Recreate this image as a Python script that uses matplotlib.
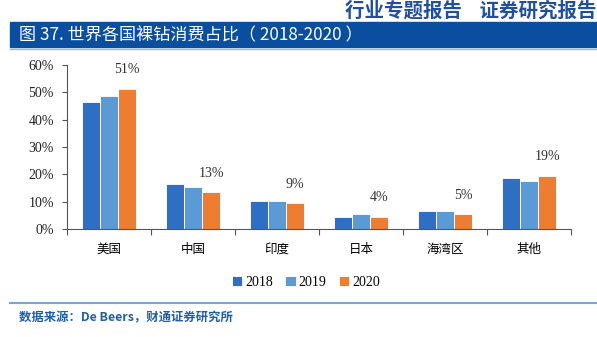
import matplotlib.pyplot as plt
import matplotlib.patches as mpatches
import numpy as np

plt.rcParams['font.family'] = ['Noto Sans CJK SC', 'DejaVu Sans']

# 数据
regiones = ['美国', '中国', '印度', '日本', '海湾区', '其他']
anios = ['2018', '2019', '2020']
v2018 = [46.5, 16.5, 10.4, 4.4, 6.5, 18.5]
v2019 = [48.5, 15.5, 10.4, 5.4, 6.5, 17.6]
v2020 = [51.4, 13.4, 9.4, 4.4, 5.4, 19.5]
etiquetas = ['51%', '13%', '9%', '4%', '5%', '19%']
colores = ['#2f6fc3', '#5b9bd5', '#ed7d31']

fig = plt.figure(figsize=(5.97, 3.37), dpi=100)

# encabezado
fig.text(0.999, 0.998, '行业专题报告    证券研究报告', ha='right', va='top',
         fontsize=14, fontweight='bold', color='#1f4f9e')
fig.patches.append(mpatches.Rectangle((10/597, 1-47/337), 1, 25/337,
                                      transform=fig.transFigure, color='#0a4f9f'))
fig.add_artist(plt.Line2D([10/597, 1], [1-49/337, 1-49/337], color='#9bb8dc', lw=1))
fig.text(19/597, 1-35/337, '图 37. 世界各国裸钻消费占比（ 2018-2020 ）', ha='left', va='center',
         fontsize=12.3, color='white')

# pie de figura
fig.add_artist(plt.Line2D([10/597, 1], [1-303/337, 1-303/337], color='#7fa3d3', lw=1.5))
fig.text(19/597, 1-318/337, '数据来源：De Beers，财通证券研究所', ha='left', va='center',
         fontsize=8.9, fontweight='bold', color='#1f5fa8')

ax = fig.add_axes([67/597, 1-229/337, 504/597, 164/337])
x = np.arange(len(regiones))
w = 0.215
series = [v2018, v2019, v2020]
for i, (vals, c) in enumerate(zip(series, colores)):
    ax.bar(x + (i-1)*w, vals, width=w, color=c, edgecolor='white', linewidth=0.6,
           label=anios[i], zorder=2)

for xi, val, lab in zip(x, v2020, etiquetas):
    ax.annotate(lab, (xi + w, val), xytext=(0, 9), textcoords='offset points',
                ha='center', va='bottom', fontsize=10, family='Liberation Serif', color='#333333')

ax.set_xlim(-0.5, len(regiones)-0.5)
ax.set_ylim(0, 60)
ax.set_yticks(np.arange(0, 61, 10))
ax.set_yticklabels([f'{v}%' for v in range(0, 61, 10)], family='Liberation Serif', fontsize=10)
ax.set_xticks(np.arange(-0.5, len(regiones), 1), minor=False)
ax.set_xticklabels([])
ax.set_xticks(x, minor=True)
ax.set_xticklabels(regiones, minor=True, fontsize=9)
ax.tick_params(axis='x', which='minor', length=0, pad=10)
ax.tick_params(axis='x', which='major', length=4, direction='out', color='#555555')
ax.tick_params(axis='y', length=3.5, direction='out', color='#555555', pad=6, labelcolor='#222222')
for s in ['top', 'right']:
    ax.spines[s].set_visible(False)
ax.spines['left'].set_color('#555555')
ax.spines['bottom'].set_color('#555555')
ax.spines['bottom'].set_zorder(3)

leg = fig.legend(loc='center', bbox_to_anchor=(306/597, 1-282/337), ncol=3, frameon=False,
                 handlelength=0.75, handleheight=0.75, handletextpad=0.2, columnspacing=0.9,
                 prop={'family': 'Liberation Serif', 'size': 10})

fig.savefig('out.png', dpi=100)
